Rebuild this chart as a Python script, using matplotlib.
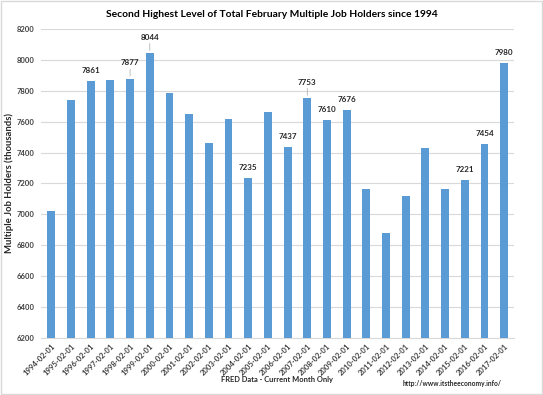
import matplotlib
matplotlib.use("Agg")
import matplotlib.pyplot as plt
import numpy as np

plt.rcParams['font.family'] = ['Lato', 'DejaVu Sans']

years = [str(y) + "-02-01" for y in range(1994, 2018)]
values = [7025, 7743, 7861, 7870, 7877, 8044, 7785, 7649, 7461, 7619, 7235, 7664,
          7437, 7753, 7610, 7676, 7162, 6881, 7119, 7432, 7166, 7221, 7454, 7980]
labeled = ["1996-02-01", "1998-02-01", "1999-02-01", "2004-02-01", "2006-02-01",
           "2007-02-01", "2008-02-01", "2009-02-01", "2015-02-01", "2016-02-01", "2017-02-01"]
leader = ["1998-02-01", "1999-02-01", "2007-02-01"]

fig = plt.figure(figsize=(5.43, 3.95), dpi=100)
ax = fig.add_axes([0.0764, 0.1443, 0.8702, 0.7823])
x = np.arange(len(years))
ax.bar(x, values, width=0.4, color='#5B9BD5', zorder=3)
ax.set_xlim(-0.5, len(years) - 0.5)
ax.set_ylim(6200, 8200)
ax.set_yticks(np.arange(6200, 8201, 200))
ax.yaxis.grid(True, color='#D9D9D9', linewidth=0.8, zorder=0)
for s in ['top', 'right', 'left']:
    ax.spines[s].set_visible(False)
ax.spines['bottom'].set_color('#D9D9D9')
ax.tick_params(axis='both', length=0, labelsize=5.5, colors='#404040')
ax.tick_params(axis='y', pad=5)
ax.set_xticks(x)
ax.set_xticklabels(years, rotation=45, ha='right', rotation_mode='anchor')
for lab in ax.get_yticklabels() + ax.get_xticklabels():
    lab.set_fontweight('bold')

for xi, (yr, v) in enumerate(zip(years, values)):
    if yr in labeled:
        off = 9 if yr in leader else 5
        ax.annotate(str(v), (xi, v), xytext=(0, off), textcoords='offset points',
                    ha='center', va='bottom', fontsize=5.8, fontweight='bold', color='#262626')
        if yr in leader:
            ax.annotate('', (xi, v), xytext=(0, off), textcoords='offset points',
                        arrowprops=dict(arrowstyle='-', color='#A6A6A6', lw=0.5))

ax.set_ylabel('Multiple Job Holders (thousands)', fontsize=6.8, fontweight='bold', color='#262626')
ax.yaxis.set_label_coords(-0.059, 0.5)
fig.text(0.5, 0.963, 'Second Highest Level of Total February Multiple Job Holders since 1994',
         ha='center', va='center', fontsize=7.4, fontweight='bold', color='#000000')
fig.text(0.511, 0.038, 'FRED Data - Current Month Only', ha='center', va='center',
         fontsize=5.4, fontweight='bold', color='#262626')
fig.text(0.833, 0.030, 'http://www.itstheeconomy.info/', ha='center', va='center',
         fontsize=4.8, fontweight='bold', color='#262626')
fig.patches.append(plt.Rectangle((0.002, 0.002), 0.996, 0.996, transform=fig.transFigure,
                                 fill=False, edgecolor='#D9D9D9', linewidth=1))
fig.savefig('out.png', dpi=100)
